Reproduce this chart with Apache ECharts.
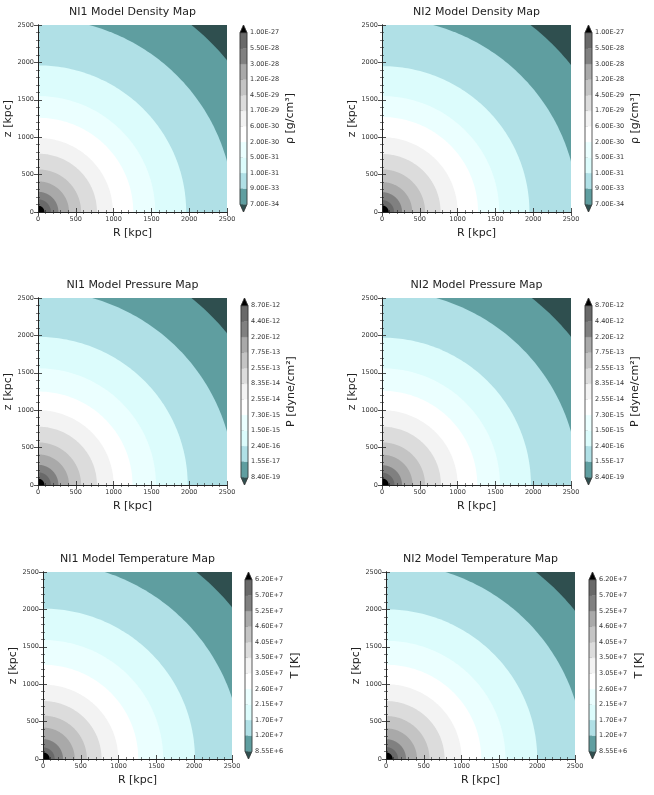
<!DOCTYPE html>
<html><head><meta charset="utf-8">
<script src="https://cdn.jsdelivr.net/npm/echarts@6/dist/echarts.min.js"></script>
<style>html,body{margin:0;padding:0;background:#fff}#c{width:654px;height:795px}</style>
</head><body><div id="c"></div>
<script>
// ---- data ----
const densityTicks = ['7.00E-34','9.00E-33','1.00E-31','5.00E-31','2.00E-30','6.00E-30','1.70E-29','4.50E-29','1.20E-28','3.00E-28','5.50E-28','1.00E-27'];
const pressureTicks = ['8.40E-19','1.55E-17','2.40E-16','1.50E-15','7.30E-15','2.55E-14','8.35E-14','2.55E-13','7.75E-13','2.20E-12','4.40E-12','8.70E-12'];
const temperatureTicks = ['8.55E+6','1.20E+7','1.70E+7','2.15E+7','2.60E+7','3.05E+7','3.50E+7','4.05E+7','4.60E+7','5.25E+7','5.70E+7','6.20E+7'];
// radius (kpc) of the contour of each level, lowest level first
const ni1DensityRadius = [3220, 2590, 1960, 1550, 1260, 990, 780, 570, 410, 270, 170, 85];
const ni2DensityRadius = [3180, 2590, 1950, 1550, 1270, 1000, 775, 570, 400, 265, 160, 88];
const ni1PressureRadius = [3220, 2600, 1980, 1560, 1250, 1000, 780, 570, 410, 270, 170, 85];
const ni2PressureRadius = [3190, 2600, 1970, 1560, 1260, 1000, 780, 570, 405, 265, 165, 88];
const ni1TemperatureRadius = [3220, 2630, 2010, 1590, 1260, 995, 775, 580, 420, 265, 155, 88];
const ni2TemperatureRadius = [3190, 2620, 2000, 1580, 1260, 1000, 775, 575, 410, 265, 160, 88];

// ---- style ----
const levelColors = ['#5f9ea0','#b0e0e6','#dcfcfc','#ebffff','#ffffff','#f3f3f3','#dcdcdc','#c4c4c4','#a9a9a9','#808080','#696969'];
const underColor = '#2f4f4f', overColor = '#000000';
const FONT = 'DejaVu Sans';

const panels = [
  {title:'NI1 Model Density Map', radii:ni1DensityRadius, ticks:densityTicks, cb:'\u03c1 [g/cm\u00b3]', px:38, py:25, cbx:240},
  {title:'NI2 Model Density Map', radii:ni2DensityRadius, ticks:densityTicks, cb:'\u03c1 [g/cm\u00b3]', px:382, py:25, cbx:585},
  {title:'NI1 Model Pressure Map', radii:ni1PressureRadius, ticks:pressureTicks, cb:'P [dyne/cm\u00b2]', px:38, py:298, cbx:241},
  {title:'NI2 Model Pressure Map', radii:ni2PressureRadius, ticks:pressureTicks, cb:'P [dyne/cm\u00b2]', px:382, py:298, cbx:585},
  {title:'NI1 Model Temperature Map', radii:ni1TemperatureRadius, ticks:temperatureTicks, cb:'T [K]', px:43, py:572, cbx:245},
  {title:'NI2 Model Temperature Map', radii:ni2TemperatureRadius, ticks:temperatureTicks, cb:'T [K]', px:386, py:572, cbx:589}
];
const PW = 189, PH = 187, CBW = 7;

const grid = [], xAxis = [], yAxis = [], series = [], graphic = [];
const lineC = '#222', labC = '#333';
function plotAxis(gi, pos, showLabel, name, isY) {
  const a = {
    type:'value', gridIndex:gi, position:pos, min:0, max:2500, interval:500,
    axisLine:{show:true, lineStyle:{color:lineC, width:1}},
    axisTick:{show:true, inside:true, length:4, lineStyle:{color:lineC, width:0.8}},
    minorTick:{show:true, splitNumber:5, length:2, lineStyle:{color:lineC, width:0.6}},
    axisLabel:{show:showLabel, fontSize:6.5, color:labC, margin:4, fontFamily:FONT, showMinLabel:true, showMaxLabel:true, formatter:(v)=>String(v)},
    splitLine:{show:false}, minorSplitLine:{show:false}, z:10
  };
  if (name) {
    a.name = name; a.nameLocation = 'middle';
    a.nameGap = isY ? 18 : 16;
    if (isY) a.nameRotate = 90;
    a.nameTextStyle = {fontSize:11, color:'#222', fontFamily:FONT};
  }
  return a;
}
panels.forEach((p, k) => {
  const g = grid.length;
  grid.push({left:p.px, top:p.py, width:PW, height:PH, show:true, backgroundColor:underColor, borderWidth:0});
  grid.push({left:p.cbx, top:p.py, width:CBW, height:PH});
  const xb = xAxis.length;
  xAxis.push(plotAxis(g, 'bottom', true, 'R [kpc]', false));
  xAxis.push(plotAxis(g, 'top', false, null, false));
  xAxis.push({type:'value', gridIndex:g+1, min:0, max:1, show:false});
  const yb = yAxis.length;
  yAxis.push(plotAxis(g, 'left', true, 'z [kpc]', true));
  yAxis.push(plotAxis(g, 'right', false, null, true));
  const ticks = p.ticks;
  yAxis.push({
    type:'value', gridIndex:g+1, position:'right', min:-0.5, max:11.5,
    axisLine:{show:false},
    axisTick:{show:true, length:3, customValues:ticks.map((t,i)=>i), lineStyle:{color:lineC, width:0.8}},
    axisLabel:{show:true, customValues:ticks.map((t,i)=>i), formatter:(v)=>ticks[Math.round(v)], fontSize:6.5, color:labC, margin:3, fontFamily:FONT},
    splitLine:{show:false},
    name:p.cb, nameLocation:'middle', nameRotate:90, nameGap:38,
    nameTextStyle:{fontSize:11, color:'#222', fontFamily:FONT}
  });
  // contour bands
  series.push({
    type:'custom', xAxisIndex:xb, yAxisIndex:yb, clip:true,
    data:p.radii.map((r,i)=>[r,i]),
    renderItem:(params, api) => {
      const r = api.value(0), i = api.value(1);
      const pts = [api.coord([0,0])];
      for (let a = 0; a <= 90; a += 1) {
        const t = a*Math.PI/180;
        pts.push(api.coord([r*Math.cos(t), r*Math.sin(t)]));
      }
      return {type:'polygon', shape:{points:pts}, style:{fill: i < 11 ? levelColors[i] : overColor}};
    }
  });
  // colorbar
  series.push({
    type:'custom', xAxisIndex:xb+2, yAxisIndex:yb+2, clip:false,
    data:[-1,0,1,2,3,4,5,6,7,8,9,10,11].map(v=>[v]),
    renderItem:(params, api) => {
      const i = api.value(0);
      let pts, fill;
      if (i === -1) { pts = [api.coord([0,0]), api.coord([1,0]), api.coord([0.5,-0.5])]; fill = underColor; }
      else if (i === 11) { pts = [api.coord([0,11]), api.coord([1,11]), api.coord([0.5,11.5])]; fill = overColor; }
      else { pts = [api.coord([0,i]), api.coord([1,i]), api.coord([1,i+1]), api.coord([0,i+1])]; fill = levelColors[i]; }
      return {type:'polygon', shape:{points:pts}, style:{fill:fill, stroke:fill, lineWidth:0.3}};
    }
  });
  series.push({
    type:'custom', xAxisIndex:xb+2, yAxisIndex:yb+2, clip:false, z:5,
    data:[[0]],
    renderItem:(params, api) => {
      const pts = [api.coord([0.5,-0.5]), api.coord([1,0]), api.coord([1,11]), api.coord([0.5,11.5]), api.coord([0,11]), api.coord([0,0])];
      return {type:'polygon', shape:{points:pts}, style:{fill:null, stroke:'#333', lineWidth:0.8}};
    }
  });
  graphic.push({type:'text', x:p.px + PW/2, y:p.py - 13, style:{text:p.title, align:'center', verticalAlign:'middle', font:'11px "DejaVu Sans"', fill:'#222'}});
});

const chart = echarts.init(document.getElementById('c'), null, {renderer:'canvas'});
chart.setOption({
  animation:false,
  textStyle:{fontFamily:FONT},
  grid, xAxis, yAxis, series, graphic
});
</script></body></html>
